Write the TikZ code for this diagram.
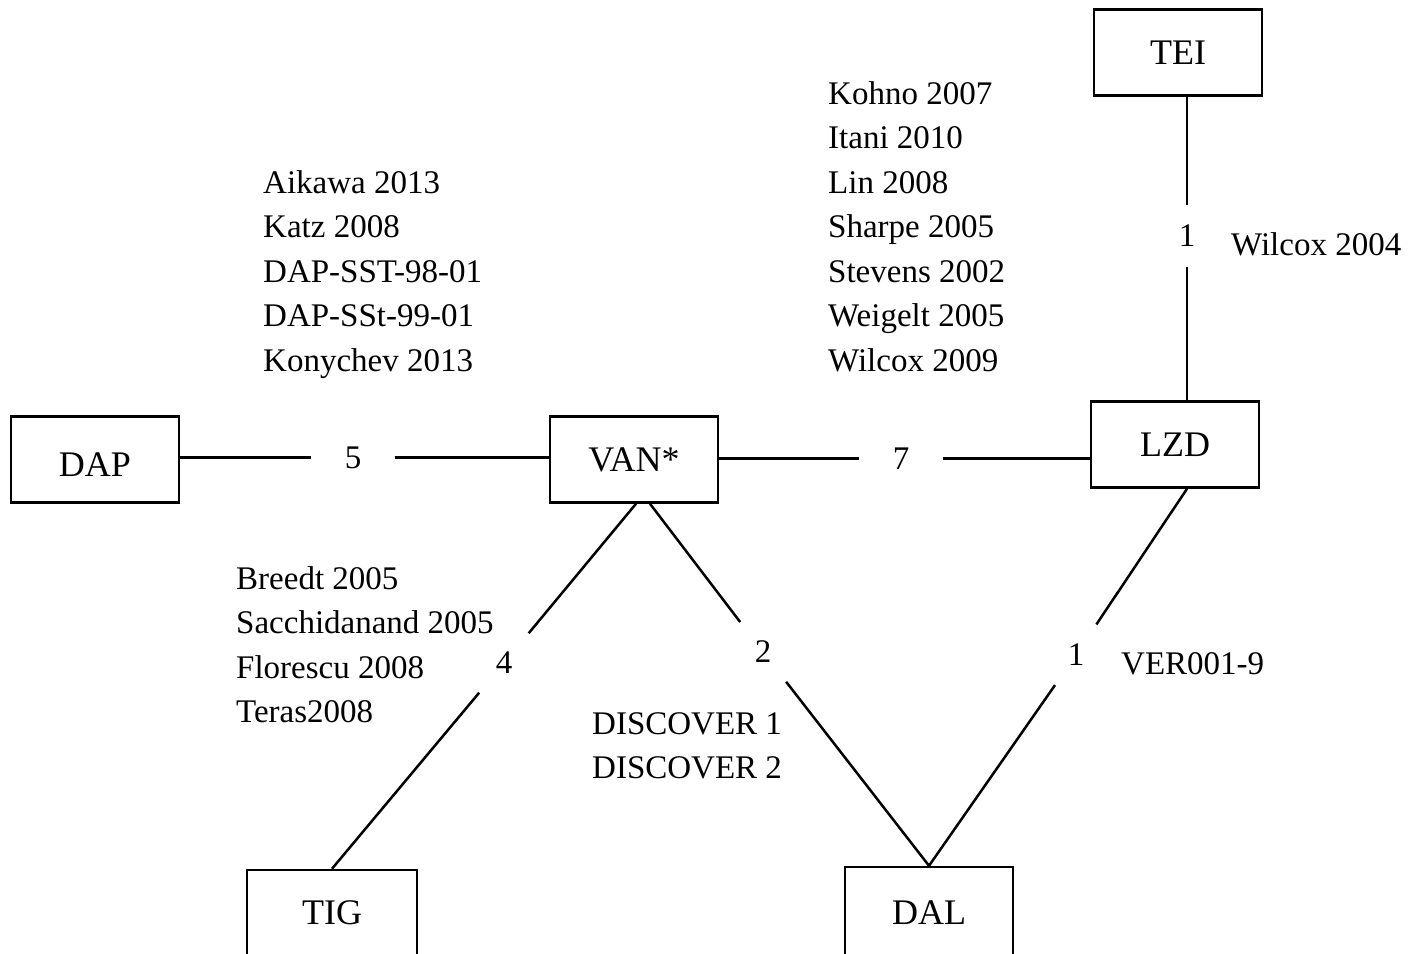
\documentclass[tikz,border=0pt]{standalone}
\usepackage{fontspec}
\setmainfont{Liberation Serif}
\begin{document}
\begin{tikzpicture}[x=1pt,y=-1pt,
  box/.style={draw, line width=2.5pt, minimum width=168pt, minimum height=86pt, inner sep=0pt, font=\fontsize{36}{40}\selectfont},
  lab/.style={font=\fontsize{33}{44.5}\selectfont, align=left, anchor=north west, inner sep=0pt},
  num/.style={circle, inner sep=0pt, font=\fontsize{33}{40}\selectfont},
  edge/.style={line width=2.5pt}]
\useasboundingbox (0,0) rectangle (1423,953);
\begin{scope}
\clip (0,0) rectangle (1423,953);
% boxes
\node[box] (tei) at (1178,52.5) {TEI};
\node[box] (lzd) at (1175,444.5) {LZD};
\node[box, text height=34pt, text depth=0pt] (dap) at (95,459.5) {DAP};
\node[box] (van) at (634,459.5) {VAN*};
\node[box, minimum width=170pt] (tig) at (332,913) {TIG};
\node[box, minimum height=92pt] (dal) at (929,913) {DAL};
% edge labels
\node[num, minimum size=83pt] (e5) at (353,457.5) {5};
\node[num, minimum size=83pt] (e7) at (901,458.5) {7};
\node[num, minimum size=62pt] (e1a) at (1187,236) {1};
\node[num, minimum size=77pt] (e4) at (504,663) {4};
\node[num, minimum size=75pt] (e2) at (763,652) {2};
\node[num, minimum size=73pt] (e1b) at (1076,655) {1};
% edges
\draw[edge] (e5 -| dap.east) -- (e5) -- (e5 -| van.west);
\draw[edge] (e7 -| van.east) -- (e7) -- (e7 -| lzd.west);
\draw[edge] ([xshift=9pt]tei.south) -- (e1a) -- ([xshift=12pt]lzd.north);
\draw[edge] ([xshift=2pt]van.south) -- (e4) -- (tig.north);
\draw[edge] ([xshift=16pt]van.south) -- (e2) -- (dal.north);
\draw[edge] ([xshift=12pt]lzd.south) -- (e1b) -- (dal.north);
\end{scope}
% text blocks
\node[lab] (refdap) at (263,170) {Aikawa 2013\\Katz 2008\\DAP-SST-98-01\\DAP-SSt-99-01\\Konychev 2013};
\node[lab] (reflzd) at (828,81) {Kohno 2007\\Itani 2010\\Lin 2008\\Sharpe 2005\\Stevens 2002\\Weigelt 2005\\Wilcox 2009};
\node[lab] (reftei) at (1231,232) {Wilcox 2004};
\node[lab] (reftig) at (236,566) {Breedt 2005\\Sacchidanand 2005\\Florescu 2008\\Teras2008};
\node[lab] (refdal) at (592,712) {DISCOVER 1\\DISCOVER 2};
\node[lab] (refver) at (1121,652) {VER001-9};
\end{tikzpicture}
\end{document}
